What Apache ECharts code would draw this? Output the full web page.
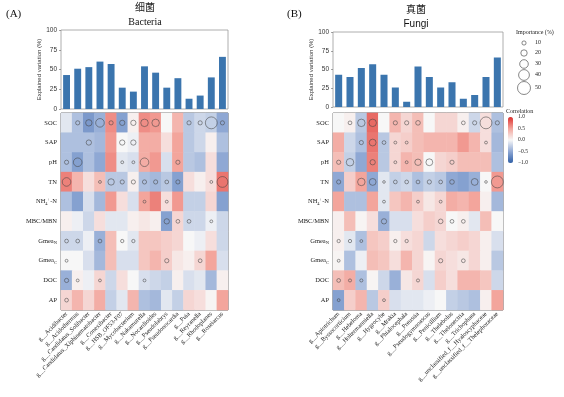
<!DOCTYPE html>
<html>
<head>
<meta charset="utf-8">
<script src="https://cdn.jsdelivr.net/npm/echarts@6/dist/echarts.min.js"></script>
<style>
  html, body { margin: 0; padding: 0; background: #fff; }
  #chart { width: 564px; height: 397px; }
</style>
</head>
<body>
<div id="chart"></div>
<script>
// 土壤因子
const factors = ['SOC', 'SAP', 'pH', 'TN', 'NH4+-N', 'MBC/MBN', 'GmeaN', 'GmeaC', 'DOC', 'AP']

// 细菌
const bacteriaGenera = [
  'g__Acidibacter', 'g__Acidothermus', 'g__Candidatus_Solibacter', 'g__Candidatus_Xiphinematobacter',
  'g__Conexibacter', 'g__HSB_OF53-F07', 'g__Mycobacterium', 'g__Nakamurella', 'g__Nocardioides',
  'g__Pseudolabrys', 'g__Pseudonocardia', 'g__Puia', 'g__Reyranella', 'g__Rhodoplanes', 'g__Roseiarcus'
]
const bacteriaVariation = [43, 51, 53, 60, 57, 27, 22, 54, 46, 27, 39, 13, 17, 40, 66]
const bacteriaCorr = [
  [-0.1, -0.35, -0.6, -0.45, 0.6, -0.55, 0.05, 0.6, 0.55, 0.0, 0.4, -0.3, -0.2, -0.25, -0.5],
  [-0.35, -0.35, -0.35, -0.4, 0.55, 0.0, -0.05, 0.45, 0.45, 0.15, 0.5, -0.3, -0.2, 0.05, -0.35],
  [-0.35, -0.55, -0.35, -0.5, 0.6, -0.1, -0.15, 0.45, 0.55, -0.15, 0.5, -0.3, -0.35, 0.15, -0.5],
  [0.65, 0.4, 0.15, 0.35, -0.3, -0.3, 0.05, -0.35, -0.4, -0.3, -0.55, 0.15, 0.05, 0.15, 0.7],
  [-0.35, -0.55, -0.15, -0.4, 0.55, 0.15, -0.15, 0.5, 0.65, 0.15, 0.55, -0.25, -0.25, 0.2, -0.55],
  [0.05, -0.05, -0.2, 0.15, -0.1, -0.1, 0.05, 0.1, 0.05, -0.55, 0.2, -0.2, -0.2, -0.05, -0.2],
  [-0.2, -0.2, -0.05, -0.45, 0.35, 0.0, -0.1, 0.3, 0.3, 0.25, 0.2, 0.0, -0.05, 0.15, -0.2],
  [0.0, 0.0, -0.15, -0.4, 0.35, -0.15, -0.15, 0.3, 0.4, 0.25, 0.1, 0.05, 0.2, 0.5, -0.15],
  [-0.45, 0.05, -0.05, 0.2, -0.2, 0.15, 0.0, -0.15, -0.2, -0.25, 0.05, -0.15, -0.1, -0.4, 0.05],
  [0.2, 0.4, 0.2, 0.45, -0.25, -0.1, 0.4, -0.35, -0.4, -0.1, -0.25, 0.2, 0.15, 0.02, 0.5]
]
const bacteriaImportance = [
  [0, 10, 20, 30, 10, 15, 15, 25, 25, 0, 0, 10, 10, 45, 10],
  [0, 0, 15, 0, 0, 15, 15, 0, 0, 0, 0, 0, 0, 0, 0],
  [10, 30, 0, 0, 0, 4, 4, 30, 0, 0, 10, 0, 0, 0, 0],
  [30, 0, 0, 4, 20, 10, 10, 10, 10, 8, 10, 0, 0, 4, 40],
  [0, 0, 0, 0, 0, 0, 0, 4, 0, 4, 0, 0, 0, 0, 0],
  [0, 0, 0, 0, 0, 0, 0, 0, 0, 15, 8, 8, 0, 4, 0],
  [8, 8, 0, 8, 0, 6, 6, 0, 0, 0, 0, 0, 0, 0, 0],
  [4, 0, 0, 0, 0, 0, 0, 0, 0, 10, 0, 0, 8, 0, 0],
  [10, 4, 0, 4, 0, 0, 0, 4, 0, 0, 0, 0, 0, 0, 0],
  [8, 0, 0, 0, 0, 0, 0, 0, 0, 0, 0, 0, 0, 0, 0]
]

// 真菌
const fungiGenera = [
  'g__Apiotrichum', 'g__Byssocorticium', 'g__Hebeloma', 'g__Holtermanniella', 'g__Hygrocybe',
  'g__Mrakia', 'g__Phialocephala', 'g__Preussia', 'g__Pseudogymnoascus', 'g__Penicillium',
  'g__Thelebolus', 'g__Thelonectria', 'g__Trichophaea',
  'g__unclassified_f__Hyaloscyphaceae', 'g__unclassified_f__Thelephoraceae'
]
const fungiVariation = [43, 40, 52, 57, 43, 26, 7, 54, 40, 26, 33, 11, 16, 40, 66]
const fungiCorr = [
  [0.0, 0.05, -0.3, 0.75, 0.0, 0.4, 0.2, 0.35, 0.0, 0.2, 0.2, 0.05, -0.2, 0.15, -0.35],
  [0.45, -0.2, -0.35, 0.7, -0.3, 0.2, 0.25, 0.35, 0.4, 0.4, 0.4, 0.55, 0.4, 0.15, -0.4],
  [0.35, -0.25, -0.5, 0.65, -0.3, 0.2, 0.4, 0.35, 0.0, 0.2, 0.25, 0.35, 0.35, 0.35, -0.35],
  [-0.5, 0.25, 0.5, -0.5, -0.1, -0.25, -0.2, -0.35, -0.25, -0.3, -0.5, -0.55, -0.45, 0.0, 0.55],
  [0.5, -0.35, -0.35, 0.5, -0.1, 0.3, 0.4, 0.25, 0.1, 0.2, 0.45, 0.4, 0.5, 0.05, -0.4],
  [0.05, 0.35, 0.02, 0.15, -0.45, -0.15, -0.15, 0.15, 0.25, 0.2, 0.0, 0.05, -0.1, 0.35, 0.0],
  [0.05, -0.1, -0.35, 0.3, 0.25, 0.05, 0.15, 0.2, -0.2, 0.15, 0.2, 0.25, 0.2, 0.05, -0.15],
  [0.02, -0.35, -0.05, 0.35, 0.3, 0.15, 0.4, 0.2, 0.02, 0.2, 0.15, 0.1, 0.2, 0.05, -0.3],
  [0.35, 0.45, -0.35, 0.02, -0.2, -0.45, 0.1, 0.2, -0.15, 0.25, 0.15, 0.4, 0.4, 0.3, -0.2],
  [-0.55, 0.25, 0.4, -0.3, 0.25, -0.15, -0.1, -0.1, -0.05, 0.0, -0.25, -0.3, -0.35, 0.05, 0.5]
]
const fungiImportance = [
  [0, 8, 25, 25, 0, 10, 10, 12, 0, 0, 0, 8, 10, 45, 10],
  [0, 0, 10, 22, 8, 4, 4, 0, 0, 0, 0, 0, 0, 4, 0],
  [10, 25, 0, 15, 0, 4, 4, 20, 22, 0, 10, 0, 0, 0, 0],
  [10, 0, 25, 22, 3, 8, 8, 8, 10, 8, 12, 0, 22, 3, 45],
  [0, 0, 0, 0, 4, 0, 0, 4, 0, 4, 0, 0, 0, 0, 0],
  [0, 0, 0, 0, 15, 0, 0, 0, 0, 12, 8, 8, 0, 0, 0],
  [6, 6, 4, 0, 0, 6, 6, 0, 0, 0, 0, 0, 0, 0, 0],
  [4, 0, 0, 0, 0, 0, 0, 0, 0, 10, 0, 8, 0, 0, 0],
  [8, 5, 5, 0, 0, 0, 0, 5, 0, 0, 0, 0, 0, 0, 0],
  [4, 0, 0, 0, 4, 0, 0, 0, 0, 0, 0, 0, 0, 0, 0]
]

// 图例
const importanceTicks = [10, 20, 30, 40, 50]
const corrTicks = ['1.0', '0.5', '0.0', '\u22120.5', '\u22121.0']

const SERIF = "'Liberation Serif', 'Times New Roman', 'Noto Sans CJK SC', serif"
const SANS = "'Liberation Sans', Arial, sans-serif"
const BAR_COLOR = '#3b75ae'
const circleSize = v => 2 + v * 0.22

const factorLabel = {
  'NH4+-N': 'NH{s|4}{p|+}-N',
  'GmeaN': 'Gmea{s|N}',
  'GmeaC': 'Gmea{s|C}'
}

const toHeat = m => {
  const out = []
  m.forEach((row, i) => row.forEach((v, j) => out.push([j, i, v])))
  return out
}
const toCircles = m => {
  const out = []
  m.forEach((row, i) => row.forEach((v, j) => { if (v > 0) out.push([j, i, v]) }))
  return out
}

const barXAxis = (gi, data) => ({
  type: 'category', gridIndex: gi, data,
  axisLine: { show: false },
  axisTick: { alignWithLabel: true, length: 2, lineStyle: { color: '#666', width: 0.6 } },
  axisLabel: { show: false }
})
const heatXAxis = (gi, data) => ({
  type: 'category', gridIndex: gi, data,
  axisLine: { show: false },
  axisTick: { alignWithLabel: true, length: 2, lineStyle: { color: '#444', width: 0.6 } },
  axisLabel: { rotate: 45, interval: 0, fontSize: 6.3, margin: 3, color: '#222', fontFamily: SERIF },
  splitLine: { show: false }
})
const barYAxis = gi => ({
  type: 'value', gridIndex: gi, min: 0, max: 100, interval: 25,
  name: 'Explained variation (%)', nameLocation: 'middle', nameGap: 16,
  nameTextStyle: { fontSize: 6, color: '#333', fontFamily: SANS },
  axisLine: { show: false },
  axisTick: { show: true, length: 2, lineStyle: { color: '#666', width: 0.6 } },
  axisLabel: { fontSize: 6.5, color: '#333', margin: 4, fontFamily: SANS },
  splitLine: { show: false }
})
const heatYAxis = gi => ({
  type: 'category', gridIndex: gi, data: factors, inverse: true,
  axisLine: { show: false },
  axisTick: { alignWithLabel: true, length: 2, lineStyle: { color: '#444', width: 0.6 } },
  axisLabel: {
    fontSize: 6.5, color: '#222', margin: 4, fontFamily: SERIF,
    formatter: v => factorLabel[v] || v,
    rich: {
      s: { fontSize: 4.5, padding: [4, 0, 0, 0], fontFamily: SERIF, color: '#222' },
      p: { fontSize: 4.5, padding: [0, 0, 4, 0], fontFamily: SERIF, color: '#222' }
    }
  }
})

const scatterSeries = (axisIdx, m) => ({
  type: 'scatter', xAxisIndex: axisIdx, yAxisIndex: axisIdx, z: 5,
  data: toCircles(m),
  symbol: 'circle',
  symbolSize: d => circleSize(d[2]),
  itemStyle: { color: 'rgba(0,0,0,0)', borderColor: '#444', borderWidth: 0.7 },
  emphasis: { disabled: true },
  silent: true
})

const legendGraphics = []
const legendY = [43, 53, 64, 75, 88]
legendGraphics.push({ type: 'text', x: 516, y: 29, style: { text: 'Importance (%)', fontSize: 6, fontFamily: SERIF, fill: '#222' } })
importanceTicks.forEach((v, i) => {
  legendGraphics.push({ type: 'circle', shape: { cx: 524, cy: legendY[i], r: circleSize(v) / 2 }, style: { fill: 'none', stroke: '#555', lineWidth: 0.7 } })
  legendGraphics.push({ type: 'text', x: 535, y: legendY[i] - 3.5, style: { text: String(v), fontSize: 6, fontFamily: SERIF, fill: '#222' } })
})
legendGraphics.push({ type: 'text', x: 506, y: 108, style: { text: 'Correlation', fontSize: 6, fontFamily: SERIF, fill: '#222' } })
corrTicks.forEach((t, i) => {
  legendGraphics.push({ type: 'text', x: 518, y: 117 + i * 11.5 - 3, style: { text: t, fontSize: 5.5, fontFamily: SERIF, fill: '#222' } })
})

const titleGraphics = [
  { type: 'text', x: 6, y: 9, style: { text: '(A)', fontSize: 11, fontFamily: SERIF, fill: '#111' } },
  { type: 'text', x: 145, y: 3, style: { text: '细菌', fontSize: 10, fontFamily: SERIF, fill: '#222', textAlign: 'center' } },
  { type: 'text', x: 145, y: 17, style: { text: 'Bacteria', fontSize: 10, fontFamily: SERIF, fill: '#111', textAlign: 'center' } },
  { type: 'text', x: 287, y: 9, style: { text: '(B)', fontSize: 11, fontFamily: SERIF, fill: '#111' } },
  { type: 'text', x: 416, y: 5, style: { text: '真菌', fontSize: 10, fontFamily: SERIF, fill: '#222', textAlign: 'center' } },
  { type: 'text', x: 416, y: 19, style: { text: 'Fungi', fontSize: 10, fontFamily: SANS, fill: '#111', textAlign: 'center' } }
]

const chart = echarts.init(document.getElementById('chart'))
chart.setOption({
  animation: false,
  backgroundColor: '#fff',
  grid: [
    { left: 61, top: 30, width: 167, height: 79, show: true, borderColor: '#999', borderWidth: 0.8 },
    { left: 61, top: 113, width: 167, height: 197, show: true, borderColor: '#333', borderWidth: 0.8 },
    { left: 333, top: 32, width: 170, height: 75, show: true, borderColor: '#999', borderWidth: 0.8 },
    { left: 333, top: 113, width: 170, height: 197, show: true, borderColor: '#333', borderWidth: 0.8 }
  ],
  xAxis: [
    barXAxis(0, bacteriaGenera),
    heatXAxis(1, bacteriaGenera),
    barXAxis(2, fungiGenera),
    heatXAxis(3, fungiGenera)
  ],
  yAxis: [barYAxis(0), heatYAxis(1), barYAxis(2), heatYAxis(3)],
  visualMap: {
    type: 'continuous', min: -1, max: 1, seriesIndex: [1, 4],
    left: 508, top: 117, itemWidth: 5, itemHeight: 46, padding: 0,
    text: null, showLabel: false, calculable: false, hoverLink: false,
    inRange: { color: ['#2f5fa7', '#8fa8d4', '#f7f7f7', '#f3a59c', '#dd2e2c'] }
  },
  series: [
    { type: 'bar', xAxisIndex: 0, yAxisIndex: 0, data: bacteriaVariation, barWidth: '62%', itemStyle: { color: BAR_COLOR }, silent: true },
    { type: 'heatmap', xAxisIndex: 1, yAxisIndex: 1, data: toHeat(bacteriaCorr), itemStyle: { borderWidth: 0 }, emphasis: { disabled: true }, silent: true },
    scatterSeries(1, bacteriaImportance),
    { type: 'bar', xAxisIndex: 2, yAxisIndex: 2, data: fungiVariation, barWidth: '62%', itemStyle: { color: BAR_COLOR }, silent: true },
    { type: 'heatmap', xAxisIndex: 3, yAxisIndex: 3, data: toHeat(fungiCorr), itemStyle: { borderWidth: 0 }, emphasis: { disabled: true }, silent: true },
    scatterSeries(3, fungiImportance)
  ],
  graphic: titleGraphics.concat(legendGraphics)
})
</script>
</body>
</html>
